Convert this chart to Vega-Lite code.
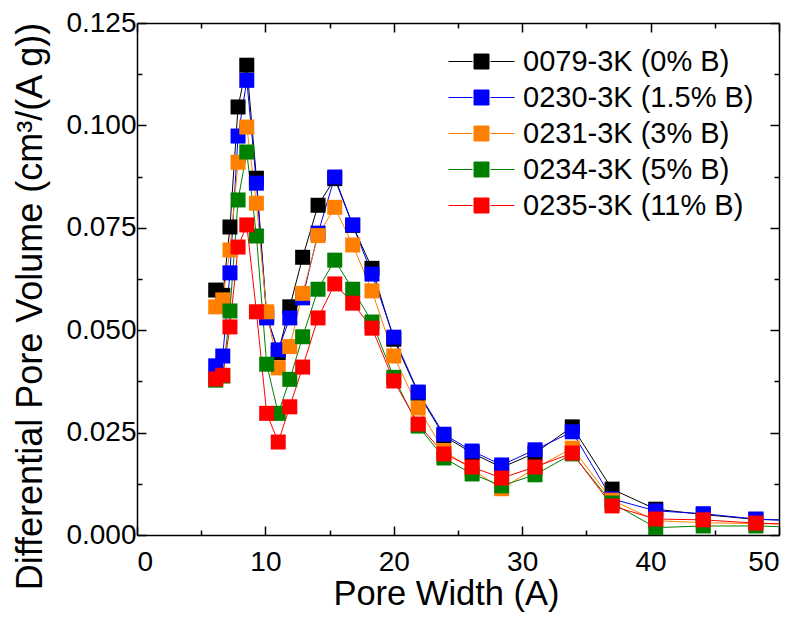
{
  "$schema": "https://vega.github.io/schema/vega-lite/v6.json",
  "width": 642,
  "height": 512,
  "autosize": {"type": "none"},
  "padding": {"left": 137, "top": 23, "right": 16, "bottom": 87},
  "background": "white",
  "config": {
    "view": {"stroke": null},
    "font": "Liberation Sans",
    "axis": {
      "grid": false,
      "domainColor": "black",
      "domainWidth": 1.5,
      "tickColor": "black",
      "tickWidth": 1.5,
      "labelFont": "Liberation Sans",
      "labelColor": "black",
      "labelFontSize": 28,
      "titleFont": "Liberation Sans",
      "titleColor": "black",
      "titleFontWeight": "normal",
      "titleFontSize": 34.5
    }
  },
  "data": {
    "values": [
      {"s":"0079-3K (0% B)","x":6.13,"y":0.0598},{"s":"0079-3K (0% B)","x":6.68,"y":0.0585},{"s":"0079-3K (0% B)","x":7.24,"y":0.0752},{"s":"0079-3K (0% B)","x":7.87,"y":0.1045},{"s":"0079-3K (0% B)","x":8.55,"y":0.1147},{"s":"0079-3K (0% B)","x":9.3,"y":0.0871},{"s":"0079-3K (0% B)","x":10.1,"y":0.0537},{"s":"0079-3K (0% B)","x":11.0,"y":0.0445},{"s":"0079-3K (0% B)","x":11.9,"y":0.0557},{"s":"0079-3K (0% B)","x":12.9,"y":0.0678},{"s":"0079-3K (0% B)","x":14.1,"y":0.0805},{"s":"0079-3K (0% B)","x":15.4,"y":0.087},{"s":"0079-3K (0% B)","x":16.8,"y":0.0756},{"s":"0079-3K (0% B)","x":18.3,"y":0.0651},{"s":"0079-3K (0% B)","x":20.0,"y":0.0478},{"s":"0079-3K (0% B)","x":21.9,"y":0.0346},{"s":"0079-3K (0% B)","x":23.9,"y":0.0242},{"s":"0079-3K (0% B)","x":26.1,"y":0.02},{"s":"0079-3K (0% B)","x":28.4,"y":0.0165},{"s":"0079-3K (0% B)","x":31.0,"y":0.02},{"s":"0079-3K (0% B)","x":33.9,"y":0.0264},{"s":"0079-3K (0% B)","x":37.0,"y":0.0112},{"s":"0079-3K (0% B)","x":40.4,"y":0.0063},{"s":"0079-3K (0% B)","x":44.1,"y":0.005},{"s":"0079-3K (0% B)","x":48.2,"y":0.0038},{"s":"0079-3K (0% B)","x":52.6,"y":0.0035},
      {"s":"0230-3K (1.5% B)","x":6.13,"y":0.0413},{"s":"0230-3K (1.5% B)","x":6.68,"y":0.0437},{"s":"0230-3K (1.5% B)","x":7.24,"y":0.064},{"s":"0230-3K (1.5% B)","x":7.87,"y":0.0974},{"s":"0230-3K (1.5% B)","x":8.55,"y":0.111},{"s":"0230-3K (1.5% B)","x":9.3,"y":0.0859},{"s":"0230-3K (1.5% B)","x":10.1,"y":0.053},{"s":"0230-3K (1.5% B)","x":11.0,"y":0.0452},{"s":"0230-3K (1.5% B)","x":11.9,"y":0.053},{"s":"0230-3K (1.5% B)","x":12.9,"y":0.0579},{"s":"0230-3K (1.5% B)","x":14.1,"y":0.0737},{"s":"0230-3K (1.5% B)","x":15.4,"y":0.0874},{"s":"0230-3K (1.5% B)","x":16.8,"y":0.0757},{"s":"0230-3K (1.5% B)","x":18.3,"y":0.0637},{"s":"0230-3K (1.5% B)","x":20.0,"y":0.0483},{"s":"0230-3K (1.5% B)","x":21.9,"y":0.0349},{"s":"0230-3K (1.5% B)","x":23.9,"y":0.0246},{"s":"0230-3K (1.5% B)","x":26.1,"y":0.0205},{"s":"0230-3K (1.5% B)","x":28.4,"y":0.0171},{"s":"0230-3K (1.5% B)","x":31.0,"y":0.0208},{"s":"0230-3K (1.5% B)","x":33.9,"y":0.0252},{"s":"0230-3K (1.5% B)","x":37.0,"y":0.0088},{"s":"0230-3K (1.5% B)","x":40.4,"y":0.0059},{"s":"0230-3K (1.5% B)","x":44.1,"y":0.0052},{"s":"0230-3K (1.5% B)","x":48.2,"y":0.0039},{"s":"0230-3K (1.5% B)","x":52.6,"y":0.0033},
      {"s":"0231-3K (3% B)","x":6.13,"y":0.0557},{"s":"0231-3K (3% B)","x":6.68,"y":0.0574},{"s":"0231-3K (3% B)","x":7.24,"y":0.0696},{"s":"0231-3K (3% B)","x":7.87,"y":0.091},{"s":"0231-3K (3% B)","x":8.55,"y":0.0996},{"s":"0231-3K (3% B)","x":9.3,"y":0.081},{"s":"0231-3K (3% B)","x":10.1,"y":0.0545},{"s":"0231-3K (3% B)","x":11.0,"y":0.0408},{"s":"0231-3K (3% B)","x":11.9,"y":0.046},{"s":"0231-3K (3% B)","x":12.9,"y":0.059},{"s":"0231-3K (3% B)","x":14.1,"y":0.0731},{"s":"0231-3K (3% B)","x":15.4,"y":0.08},{"s":"0231-3K (3% B)","x":16.8,"y":0.0708},{"s":"0231-3K (3% B)","x":18.3,"y":0.0596},{"s":"0231-3K (3% B)","x":20.0,"y":0.0437},{"s":"0231-3K (3% B)","x":21.9,"y":0.031},{"s":"0231-3K (3% B)","x":23.9,"y":0.0206},{"s":"0231-3K (3% B)","x":26.1,"y":0.016},{"s":"0231-3K (3% B)","x":28.4,"y":0.0113},{"s":"0231-3K (3% B)","x":31.0,"y":0.0163},{"s":"0231-3K (3% B)","x":33.9,"y":0.0212},{"s":"0231-3K (3% B)","x":37.0,"y":0.0085},{"s":"0231-3K (3% B)","x":40.4,"y":0.0035},{"s":"0231-3K (3% B)","x":44.1,"y":0.003},{"s":"0231-3K (3% B)","x":48.2,"y":0.0028},{"s":"0231-3K (3% B)","x":52.6,"y":0.0025},
      {"s":"0234-3K (5% B)","x":6.13,"y":0.0378},{"s":"0234-3K (5% B)","x":6.68,"y":0.0388},{"s":"0234-3K (5% B)","x":7.24,"y":0.0547},{"s":"0234-3K (5% B)","x":7.87,"y":0.0818},{"s":"0234-3K (5% B)","x":8.55,"y":0.0935},{"s":"0234-3K (5% B)","x":9.3,"y":0.073},{"s":"0234-3K (5% B)","x":10.1,"y":0.0417},{"s":"0234-3K (5% B)","x":11.0,"y":0.0297},{"s":"0234-3K (5% B)","x":11.9,"y":0.038},{"s":"0234-3K (5% B)","x":12.9,"y":0.0484},{"s":"0234-3K (5% B)","x":14.1,"y":0.06},{"s":"0234-3K (5% B)","x":15.4,"y":0.0671},{"s":"0234-3K (5% B)","x":16.8,"y":0.06},{"s":"0234-3K (5% B)","x":18.3,"y":0.052},{"s":"0234-3K (5% B)","x":20.0,"y":0.0385},{"s":"0234-3K (5% B)","x":21.9,"y":0.0266},{"s":"0234-3K (5% B)","x":23.9,"y":0.0188},{"s":"0234-3K (5% B)","x":26.1,"y":0.0149},{"s":"0234-3K (5% B)","x":28.4,"y":0.012},{"s":"0234-3K (5% B)","x":31.0,"y":0.0147},{"s":"0234-3K (5% B)","x":33.9,"y":0.0198},{"s":"0234-3K (5% B)","x":37.0,"y":0.0078},{"s":"0234-3K (5% B)","x":40.4,"y":0.0018},{"s":"0234-3K (5% B)","x":44.1,"y":0.0022},{"s":"0234-3K (5% B)","x":48.2,"y":0.0022},{"s":"0234-3K (5% B)","x":52.6,"y":0.0018},
      {"s":"0235-3K (11% B)","x":6.13,"y":0.0381},{"s":"0235-3K (11% B)","x":6.68,"y":0.039},{"s":"0235-3K (11% B)","x":7.24,"y":0.0508},{"s":"0235-3K (11% B)","x":7.87,"y":0.0703},{"s":"0235-3K (11% B)","x":8.55,"y":0.0757},{"s":"0235-3K (11% B)","x":9.3,"y":0.0545},{"s":"0235-3K (11% B)","x":10.1,"y":0.0297},{"s":"0235-3K (11% B)","x":11.0,"y":0.0227},{"s":"0235-3K (11% B)","x":11.9,"y":0.0313},{"s":"0235-3K (11% B)","x":12.9,"y":0.041},{"s":"0235-3K (11% B)","x":14.1,"y":0.053},{"s":"0235-3K (11% B)","x":15.4,"y":0.0613},{"s":"0235-3K (11% B)","x":16.8,"y":0.0566},{"s":"0235-3K (11% B)","x":18.3,"y":0.0505},{"s":"0235-3K (11% B)","x":20.0,"y":0.0376},{"s":"0235-3K (11% B)","x":21.9,"y":0.0271},{"s":"0235-3K (11% B)","x":23.9,"y":0.0198},{"s":"0235-3K (11% B)","x":26.1,"y":0.0166},{"s":"0235-3K (11% B)","x":28.4,"y":0.0139},{"s":"0235-3K (11% B)","x":31.0,"y":0.0166},{"s":"0235-3K (11% B)","x":33.9,"y":0.02},{"s":"0235-3K (11% B)","x":37.0,"y":0.0071},{"s":"0235-3K (11% B)","x":40.4,"y":0.0039},{"s":"0235-3K (11% B)","x":44.1,"y":0.0037},{"s":"0235-3K (11% B)","x":48.2,"y":0.0029},{"s":"0235-3K (11% B)","x":52.6,"y":0.0025}
    ]
  },
  "layer": [
    {
      "mark": {"type": "line", "strokeWidth": 1, "clip": true},
      "encoding": {
        "x": {"field": "x", "type": "quantitative", "scale": {"domain": [0, 50], "nice": false, "zero": false},
          "axis": {"orient": "bottom", "values": [0, 10, 20, 30, 40, 50], "format": "d", "tickSize": -9, "labelPadding": 22, "title": "Pore Width (A)", "titleX": 309, "titleY": 59, "titleBaseline": "middle", "titleAlign": "center"}},
        "y": {"field": "y", "type": "quantitative", "scale": {"domain": [0, 0.125], "nice": false},
          "axis": {"orient": "left", "values": [0, 0.025, 0.05, 0.075, 0.1, 0.125], "format": ".3f", "tickSize": -9, "labelPadding": 10, "title": "Differential Pore Volume (cm³/(A g))", "titleFontSize": 36, "titleX": -107, "titleY": 283, "titleAngle": -90, "titleBaseline": "middle", "titleAlign": "center"}},
        "color": {"field": "s", "type": "nominal",
          "scale": {"domain": ["0079-3K (0% B)", "0230-3K (1.5% B)", "0231-3K (3% B)", "0234-3K (5% B)", "0235-3K (11% B)"], "range": ["#000000", "#0000ff", "#ff8000", "#008000", "#ff0000"]}}
      }
    },
    {
      "mark": {"type": "point", "shape": "square", "filled": true, "size": 225, "opacity": 1, "clip": true},
      "encoding": {
        "x": {"field": "x", "type": "quantitative",
          "axis": {"orient": "top", "values": [0, 10, 20, 30, 40, 50], "tickSize": -9, "labels": false, "title": null}},
        "y": {"field": "y", "type": "quantitative",
          "axis": {"orient": "right", "values": [0, 0.025, 0.05, 0.075, 0.1, 0.125], "tickSize": -9, "labels": false, "title": null}},
        "color": {"field": "s", "type": "nominal",
          "legend": {
            "orient": "none", "legendX": 330, "legendY": 24, "title": null, "padding": 0,
            "symbolType": "M-4.4,0H-1.2M1.2,0H4.4M-1,-1H1V1H-1Z",
            "symbolSize": 225, "symbolStrokeWidth": 1,
            "labelFont": "Liberation Sans", "labelFontSize": 29, "labelColor": "black", "labelOffset": 27, "labelLimit": 0, "rowPadding": 6,
            "encode": {"symbols": {"update": {
              "fill": {"scale": "color", "field": "value"},
              "stroke": {"scale": "color", "field": "value"},
              "strokeOpacity": {"value": 0.55},
              "opacity": {"value": 1}
            }}}
          }}
      }
    },
    {
      "mark": {"type": "point", "opacity": 0},
      "encoding": {
        "x": {"field": "x", "type": "quantitative",
          "axis": {"orient": "bottom", "values": [5, 15, 25, 35, 45], "tickSize": -5, "labels": false, "domain": false, "title": null}},
        "y": {"field": "y", "type": "quantitative",
          "axis": {"orient": "left", "values": [0.0125, 0.0375, 0.0625, 0.0875, 0.1125], "tickSize": -5, "labels": false, "domain": false, "title": null}}
      }
    },
    {
      "mark": {"type": "point", "opacity": 0},
      "encoding": {
        "x": {"field": "x", "type": "quantitative",
          "axis": {"orient": "top", "values": [5, 15, 25, 35, 45], "tickSize": -5, "labels": false, "domain": false, "title": null}},
        "y": {"field": "y", "type": "quantitative",
          "axis": {"orient": "right", "values": [0.0125, 0.0375, 0.0625, 0.0875, 0.1125], "tickSize": -5, "labels": false, "domain": false, "title": null}}
      }
    }
  ],
  "resolve": {"axis": {"x": "independent", "y": "independent"}}
}
